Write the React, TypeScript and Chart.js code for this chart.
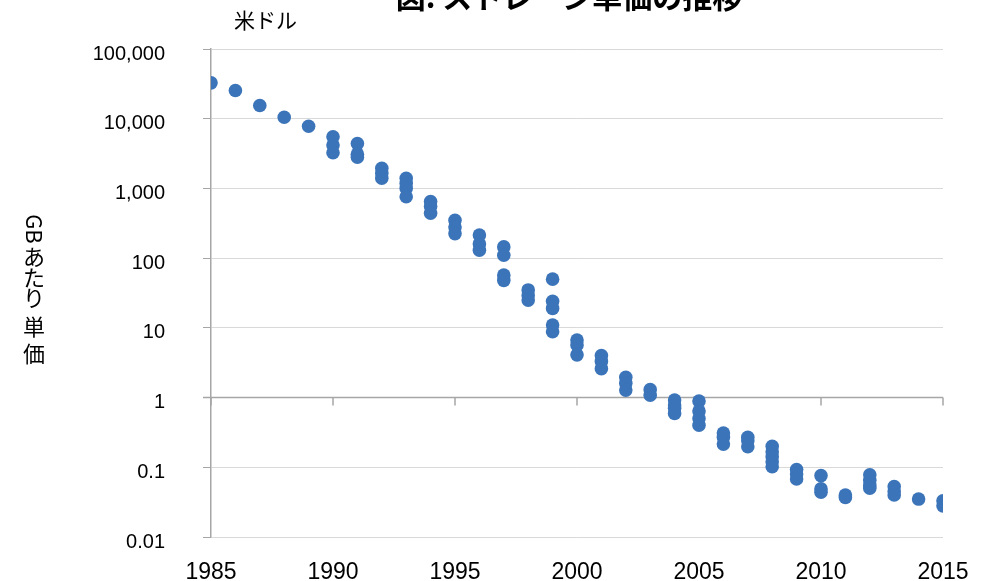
import React, { useEffect, useRef } from "react";
import { Chart, registerables } from "chart.js";

Chart.register(...registerables);

// Storage price per GB (US$) by year; several products per year
const years = [
  1985, 1986, 1987, 1988, 1989, 1990, 1991, 1992, 1993, 1994, 1995, 1996, 1997, 1998, 1999,
  2000, 2001, 2002, 2003, 2004, 2005, 2006, 2007, 2008, 2009, 2010, 2011, 2012, 2013, 2014, 2015,
];
const pricesPerYear: number[][] = [
  [32700],
  [25400],
  [15500],
  [10500],
  [7800],
  [5500, 4200, 3250],
  [4400, 3100, 2800],
  [1950, 1650, 1400],
  [1400, 1180, 1000, 760],
  [650, 550, 440],
  [350, 280, 225],
  [215, 160, 130],
  [145, 110, 57, 48],
  [35, 29, 25],
  [50, 24, 19, 11, 8.8],
  [6.7, 5.7, 4.1],
  [4.0, 3.3, 2.6],
  [1.95, 1.6, 1.28],
  [1.3, 1.08],
  [0.92, 0.78, 0.7, 0.59],
  [0.89, 0.64, 0.5, 0.4],
  [0.31, 0.27, 0.215],
  [0.27, 0.24, 0.197],
  [0.2, 0.167, 0.142, 0.12, 0.102],
  [0.093, 0.08, 0.068],
  [0.076, 0.049, 0.044],
  [0.04, 0.037],
  [0.078, 0.065, 0.055, 0.05],
  [0.053, 0.045, 0.04],
  [0.035],
  [0.033, 0.028],
];

const yTickValues = [0.01, 0.1, 1, 10, 100, 1000, 10000, 100000];
const yTickLabels = ["0.01", "0.1", "1", "10", "100", "1,000", "10,000", "100,000"];

const chartTitle = "図: ストレージ単価の推移";
const unitLabel = "米ドル";
const yTitleLatin = "GB";
const yTitleChars = ["あ", "た", "り", "単", "価"];

const LATIN = "'Liberation Sans', Arial, sans-serif";
const CJK = "'Noto Sans CJK JP', sans-serif";
const POINT_COLOR = "#3b74b9";
const AXIS_COLOR = "#a6a6a6";
const GRID_COLOR = "#d9d9d9";

const textPlugin = {
  id: "labelsAndBaseline",
  beforeDatasetsDraw(chart: any) {
    const { ctx, chartArea, scales } = chart;
    const y1 = scales.y.getPixelForValue(1);
    ctx.save();
    ctx.strokeStyle = AXIS_COLOR;
    ctx.lineWidth = 1.5;
    ctx.beginPath();
    ctx.moveTo(chartArea.left - 8, y1);
    ctx.lineTo(chartArea.right, y1);
    for (let yr = 1985; yr <= 2015; yr += 5) {
      const x = scales.x.getPixelForValue(yr);
      ctx.moveTo(x, y1);
      ctx.lineTo(x, y1 + 8);
    }
    ctx.stroke();
    ctx.restore();
  },
  afterDraw(chart: any) {
    const { ctx } = chart;
    ctx.save();
    ctx.fillStyle = "#000";

    ctx.font = `bold 30px ${CJK}`;
    ctx.textAlign = "center";
    ctx.textBaseline = "alphabetic";
    ctx.fillText(chartTitle, 569, 8);

    ctx.font = `21px ${CJK}`;
    ctx.textAlign = "left";
    ctx.fillText(unitLabel, 234, 28);

    // vertical axis title: Latin part rotated, kana/kanji upright
    ctx.font = `22px ${CJK}`;
    ctx.textAlign = "center";
    ctx.textBaseline = "middle";
    ctx.save();
    ctx.translate(34, 229);
    ctx.rotate(Math.PI / 2);
    ctx.fillText(yTitleLatin, 0, 0);
    ctx.restore();
    const centers = [257, 278, 298, 327, 354];
    yTitleChars.forEach((ch, i) => ctx.fillText(ch, 34, centers[i]));
    ctx.restore();
  },
};

export default function App() {
  const canvasRef = useRef<HTMLCanvasElement | null>(null);

  useEffect(() => {
    if (!canvasRef.current) return;
    const points: { x: number; y: number }[] = [];
    years.forEach((yr, i) => pricesPerYear[i].forEach((p) => points.push({ x: yr, y: p })));

    const chart = new Chart(canvasRef.current, {
      type: "scatter",
      data: {
        datasets: [
          {
            data: points,
            backgroundColor: POINT_COLOR,
            borderColor: POINT_COLOR,
            borderWidth: 0,
            pointRadius: 6.8,
            pointHoverRadius: 6.8,
          },
        ],
      },
      options: {
        responsive: false,
        animation: false,
        devicePixelRatio: 1,
        layout: { padding: { top: 49, right: 46, left: 0, bottom: 0 } },
        plugins: { legend: { display: false }, tooltip: { enabled: false }, title: { display: false } },
        scales: {
          x: {
            type: "linear",
            min: 1985,
            max: 2015,
            grid: { display: false, drawTicks: false },
            border: { display: false },
            ticks: {
              stepSize: 5,
              padding: 22,
              color: "#000",
              font: { family: LATIN, size: 23 },
              maxRotation: 0,
              callback: (v: any) => String(v),
            },
            afterFit: (s: any) => {
              s.height = 44;
              s.paddingLeft = 0;
              s.paddingRight = 0;
            },
          },
          y: {
            type: "logarithmic",
            min: 0.01,
            max: 100000,
            afterBuildTicks: (s: any) => {
              s.ticks = yTickValues.map((v) => ({ value: v }));
            },
            grid: { color: GRID_COLOR, tickColor: AXIS_COLOR, tickLength: 8, lineWidth: 1 },
            border: { color: AXIS_COLOR, width: 1.5 },
            ticks: {
              padding: 38,
              labelOffset: 5,
              color: "#000",
              font: { family: LATIN, size: 20 },
              callback: (v: any) => {
                const idx = yTickValues.findIndex((t) => Math.abs(t - v) / t < 1e-6);
                return idx >= 0 ? yTickLabels[idx] : "";
              },
            },
            afterFit: (s: any) => {
              s.width = 211;
              s.paddingTop = 0;
              s.paddingBottom = 0;
            },
          },
        },
      },
      plugins: [textPlugin],
    });
    return () => chart.destroy();
  }, []);

  return (
    <div style={{ position: "absolute", left: 0, top: 0, width: 989, height: 581, background: "#fff" }}>
      <canvas ref={canvasRef} width={989} height={581} />
    </div>
  );
}
